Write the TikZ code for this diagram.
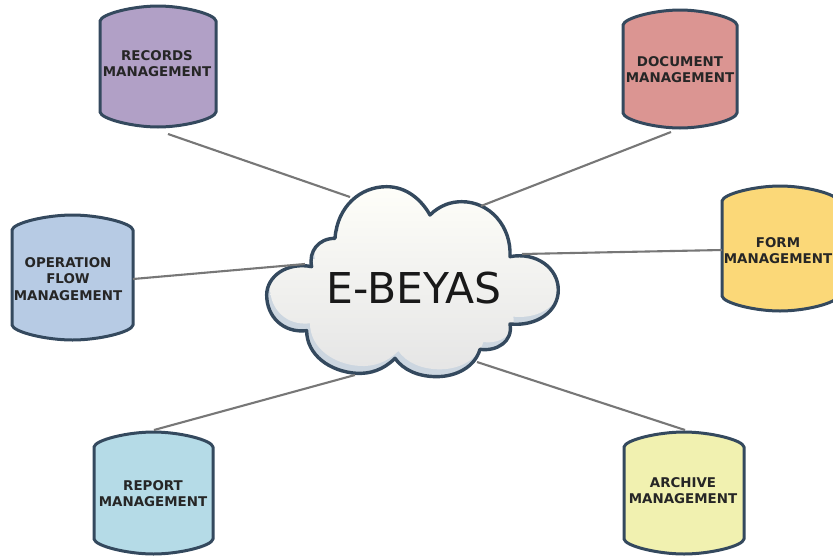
\documentclass[tikz,border=0pt]{standalone}
\usepackage{fontspec}
\setmainfont{DejaVu Sans}
\usetikzlibrary{calc}
\definecolor{edgeblue}{HTML}{34495E}
\definecolor{rimblue}{HTML}{CCD6E0}
\definecolor{linkgray}{HTML}{777777}
\definecolor{cRec}{HTML}{B1A0C6}
\definecolor{cDoc}{HTML}{DB9592}
\definecolor{cForm}{HTML}{FBD878}
\definecolor{cOp}{HTML}{B7CBE4}
\definecolor{cRep}{HTML}{B5DBE7}
\definecolor{cArc}{HTML}{F1F1B0}
\tikzset{
  cylshape/.style={draw=edgeblue,line width=3pt,line join=round},
  cyllabel/.style={inner sep=0pt,minimum width=100pt,minimum height=50pt,align=center,text=black!85,font=\fontsize{13.4}{16.2}\selectfont\bfseries},
  cloudlabel/.style={inner sep=0pt,minimum width=290pt,minimum height=190pt,font=\fontsize{42.5}{44}\selectfont,text=black!90},
  link/.style={draw=linkgray,line width=2.1pt}
}
% name, x0, y0, x1, y1, colour, text x, text y, text
\newcommand{\cylbox}[9]{%
  \pgfmathsetmacro{\xb}{#2+0.28*(#4-#2)}%
  \pgfmathsetmacro{\xc}{#2+0.5*(#4-#2)}%
  \pgfmathsetmacro{\xd}{#2+0.72*(#4-#2)}%
  \path[cylshape,fill=#6] (#2,#3+15) .. controls (#2+1,#3+8) and (\xb,#3) .. (\xc,#3)
    .. controls (\xd,#3) and (#4-1,#3+8) .. (#4,#3+15) -- (#4,#5-15)
    .. controls (#4-1,#5-8) and (\xd,#5) .. (\xc,#5)
    .. controls (\xb,#5) and (#2+1,#5-8) .. (#2,#5-15) -- cycle;
  \node[cyllabel] (#1) at (#7,#8) {#9};
}
\newcommand{\cloudshape}{
  (255,205) .. controls (262,110) and (330,50) .. (410,50)
  .. controls (470,50) and (515,90) .. (540,135)
  .. controls (570,105) and (605,95) .. (635,95)
  .. controls (720,95) and (785,170) .. (780,260)
  .. controls (860,245) and (925,295) .. (925,360)
  .. controls (925,425) and (860,470) .. (780,462)
  .. controls (790,515) and (740,545) .. (690,538)
  .. controls (675,590) and (620,620) .. (560,620)
  .. controls (505,620) and (460,600) .. (435,565)
  .. controls (400,600) and (360,612) .. (320,610)
  .. controls (240,605) and (170,555) .. (170,482)
  .. controls (100,490) and (50,440) .. (50,375)
  .. controls (50,320) and (110,275) .. (185,290)
  .. controls (175,245) and (205,205) .. (255,205) -- cycle
}
\begin{document}
\begin{tikzpicture}[x=1pt,y=-1pt]
\useasboundingbox (0,0) rectangle (833,555);
\clip (0,0) rectangle (833,555);
\fill[white] (0,0) rectangle (833,555);
% cloud
\begin{scope}[shift={(250,170)},x=0.3333pt,y=-0.3333pt]
  \begin{scope}
    \clip \cloudshape;
    \fill[rimblue] (0,0) rectangle (960,660);
    \begin{scope}[shift={(-18,-22)}]
      \clip \cloudshape;
    \end{scope}
    \begin{scope}[shift={(10,-22)}]
      \path[top color=white!98!yellow,bottom color=black!10] \cloudshape;
    \end{scope}
  \end{scope}
  \draw[edgeblue,line width=3.4pt,line join=round] \cloudshape;
\end{scope}
\node[cloudlabel] (cloud) at (414,288) {E-BEYAS};
% cylinders
\cylbox{rec}{100}{6}{216}{127}{cRec}{157}{64}{RECORDS\\MANAGEMENT}
\cylbox{doc}{623}{10}{737}{128}{cDoc}{680}{70}{DOCUMENT\\MANAGEMENT}
\cylbox{form}{722}{186}{838}{311}{cForm}{778}{251}{FORM\\MANAGEMENT}
\cylbox{oper}{12}{215}{133}{340}{cOp}{68}{279}{OPERATION\\FLOW\\MANAGEMENT}
\cylbox{rep}{94}{432}{213}{554}{cRep}{153}{494}{REPORT\\MANAGEMENT}
\cylbox{arc}{624}{432}{744}{554}{cArc}{683}{491}{ARCHIVE\\MANAGEMENT}
% connectors
\draw[link] ($(rec.center)+(11,70)$) -- ($(cloud.center)+(-64,-91)$);
\draw[link] ($(doc.center)+(-9,62)$) -- ($(cloud.center)+(67,-82)$);
\draw[link] ($(form.center)+(-56,-1)$) -- ($(cloud.center)+(108,-34)$);
\draw[link] ($(oper.center)+(65,0)$) -- ($(cloud.center)+(-109,-24)$);
\draw[link] ($(rep.center)+(1,-64)$) -- ($(cloud.center)+(-59,87)$);
\draw[link] ($(arc.center)+(2,-61)$) -- ($(cloud.center)+(63,74)$);
\end{tikzpicture}
\end{document}
